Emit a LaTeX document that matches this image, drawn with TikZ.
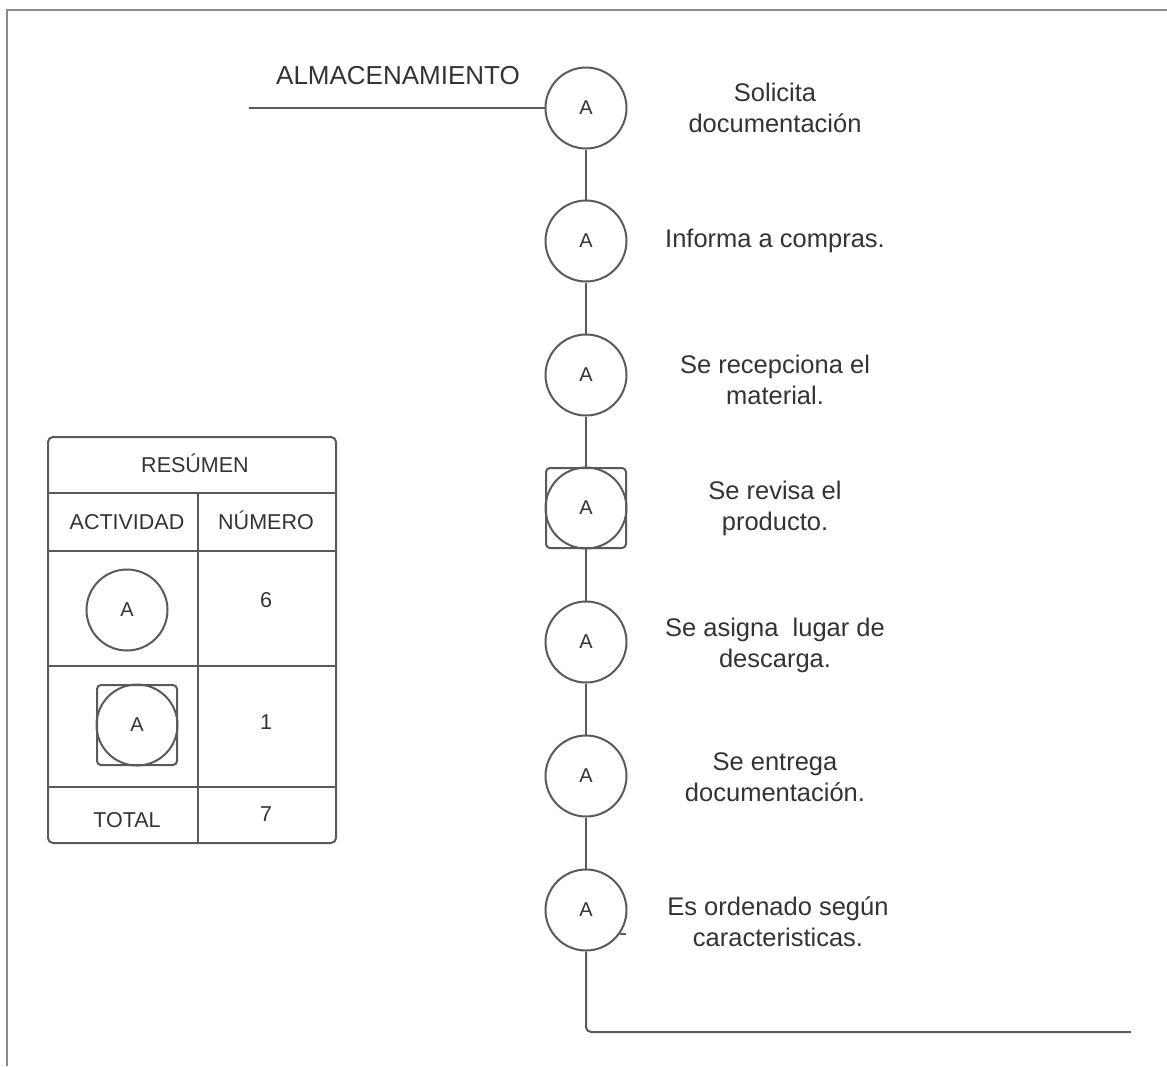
\documentclass[tikz,border=0pt]{standalone}
\usepackage{fontspec}
\setmainfont{Liberation Sans}
\definecolor{ln}{HTML}{5A5A5A}
\definecolor{tx}{HTML}{333333}
\definecolor{frm}{HTML}{8C8C8C}
\begin{document}
\begin{tikzpicture}[x=1pt,y=-1pt,
  act/.style={circle,draw=ln,line width=2pt,minimum size=81pt,inner sep=0pt,text=tx,font=\fontsize{20}{22}\selectfont},
  insp/.style={rectangle,rounded corners=4pt,draw=ln,line width=2pt,minimum size=80pt,inner sep=0pt},
  lbl/.style={align=center,text=tx,font=\fontsize{25.5}{31}\selectfont,inner sep=0pt},
  tbl/.style={text=tx,font=\fontsize{21.5}{24}\selectfont,inner sep=0pt,text height=15.5pt,text depth=0pt},
  conn/.style={draw=ln,line width=2pt}]
\useasboundingbox (0,0) rectangle (1167,1066);
% frame
\draw[frm,line width=2pt] (7,1066) -- (7,10) -- (1167,10);
% title
\node[lbl,font=\fontsize{26}{30}\selectfont] (title) at (398,76) {ALMACENAMIENTO};
\coordinate (start) at (249,108);
% activities
\node[act] (c1) at (586,108) {A};
\node[act] (c2) at (586,241) {A};
\node[act] (c3) at (586,375) {A};
\node[insp] (s4) at (586,508) {};
\node[act] (c4) at (586,508) {A};
\node[act] (c5) at (586,642) {A};
\node[act] (c6) at (586,776) {A};
\node[act] (c7) at (586,910) {A};
\coordinate (endp) at (1131,1032);
\draw[conn] (start) -- (c1.west);
\draw[conn] (c1) -- (c2);
\draw[conn] (c2) -- (c3);
\draw[conn] (c3) -- (s4);
\draw[conn] (s4) -- (c5);
\draw[conn] (c5) -- (c6);
\draw[conn] (c6) -- (c7);
\draw[conn,rounded corners=5pt] (c7.south) |- (endp);
\coordinate (stubA) at (620,934);
\coordinate (stubB) at (626,934);
\draw[draw=ln,line width=1.5pt] (stubA) -- (stubB);
% labels
\node[lbl] (l1) at (775,108) {Solicita\\documentación};
\node[lbl] (l2) at (775,241) {Informa a compras.};
\node[lbl] (l3) at (775,380) {Se recepciona el\\material.};
\node[lbl] (l4) at (775,508) {Se revisa el\\producto.};
\node[lbl] (l5) at (775,645) {Se asigna\ \ lugar de\\descarga.};
\node[lbl] (l6) at (775,777) {Se entrega\\documentación.};
\node[lbl] (l7) at (778,922) {Es ordenado según\\caracteristicas.};
% summary table
\draw[conn,rounded corners=5pt] (48,437) rectangle (336,843);
\draw[conn] (48,493) -- (336,493);
\draw[conn] (48,551) -- (336,551);
\draw[conn] (48,666) -- (336,666);
\draw[conn] (48,787) -- (336,787);
\draw[conn] (198,493) -- (198,843);
\node[tbl] (t0) at (195,465) {RESÚMEN};
\node[tbl] (t1) at (127,522) {ACTIVIDAD};
\node[tbl] (t2) at (266,522) {NÚMERO};
\node[act] (tc) at (127,610) {A};
\node[tbl] (t3) at (266,600) {6};
\node[insp] (ts) at (137,725) {};
\node[act] (tc2) at (137,725) {A};
\node[tbl] (t4) at (266,722) {1};
\node[tbl] (t5) at (127,820) {TOTAL};
\node[tbl] (t6) at (266,814) {7};
\end{tikzpicture}
\end{document}
